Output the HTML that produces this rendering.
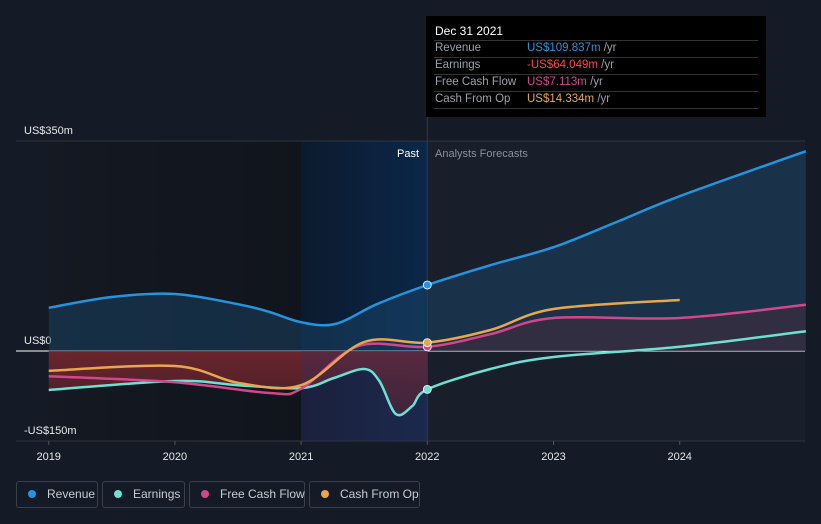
<!DOCTYPE html>
<html><head><meta charset="utf-8"><style>
body{margin:0;background:#151b26;font-family:"Liberation Sans",sans-serif;}
#wrap{position:relative;width:821px;height:524px;overflow:hidden;background:#151b26;}
.lg{position:absolute;top:481px;border:1px solid #3a404b;border-radius:3px;color:#c8ccd2;font-size:12px;line-height:25px;box-sizing:border-box;height:27px;white-space:nowrap;}
.lg i{display:inline-block;width:8px;height:8px;border-radius:50%;margin:0 11px 0 11px;vertical-align:0px;}
.tr{position:absolute;left:9px;height:17px;line-height:17px;font-size:11.5px;white-space:nowrap;}
.tr b{font-weight:normal;display:inline-block;width:92px;color:#9aa0a8}
.hr{position:absolute;left:8px;right:8px;border-top:1px solid #333}
</style></head><body>
<div id="wrap">
<svg id="chart" width="821" height="524" style="position:absolute;left:0;top:0"></svg>
<div style="position:absolute;left:426px;top:16px;width:340px;height:101px;background:#000;color:#fff;font-size:11px;">
 <div style="position:absolute;left:9px;top:8px;font-size:12px">Dec 31 2021</div>
 <div class="hr" style="top:24px"></div>
 <div class="tr" style="top:24px"><b>Revenue</b><span style="color:#2394df">US$109.837m</span> <span style="color:#9aa0a8">/yr</span></div>
 <div class="hr" style="top:41px"></div>
 <div class="tr" style="top:41px"><b>Earnings</b><span style="color:#ff4545">-US$64.049m</span> <span style="color:#9aa0a8">/yr</span></div>
 <div class="hr" style="top:58px"></div>
 <div class="tr" style="top:58px"><b>Free Cash Flow</b><span style="color:#d2478c">US$7.113m</span> <span style="color:#9aa0a8">/yr</span></div>
 <div class="hr" style="top:75px"></div>
 <div class="tr" style="top:75px"><b>Cash From Op</b><span style="color:#e8a74c">US$14.334m</span> <span style="color:#9aa0a8">/yr</span></div>
 <div class="hr" style="top:92px"></div>
</div>
<div class="lg" style="left:16px;width:82px"><i style="background:#2394df"></i>Revenue</div>
<div class="lg" style="left:102px;width:83px"><i style="background:#6ee0d2"></i>Earnings</div>
<div class="lg" style="left:189px;width:116px"><i style="background:#d2478c"></i>Free Cash Flow</div>
<div class="lg" style="left:309px;width:111px"><i style="background:#e8a74c"></i>Cash From Op</div>
</div>
<script>
const revT=[2019,2019.5,2020,2020.5,2020.75,2021,2021.27,2021.6,2022,2022.5,2023,2023.5,2024,2025];
const revV=[72,90,95,78,65,48,45,78,110,143,173,215,258,333];
const earT=[2019,2020,2020.5,2021,2021.26,2021.5,2021.62,2021.75,2021.88,2022,2022.5,2023,2024,2025];
const earV=[-65,-50,-57,-62,-45,-30,-50,-105,-92,-64,-30,-10,7,33];
const fcfT=[2019,2020,2020.75,2021,2021.45,2022,2022.5,2023,2024,2025];
const fcfV=[-42,-52,-70,-63,8,7,28,55,55,77];
const cfoT=[2019,2020,2020.5,2021,2021.5,2022,2022.5,2023,2024];
const cfoV=[-33,-25,-53,-57,15,14,35,70,85];
const yTicks=[350,0,-150];
const yLabels=["US$350m","US$0","-US$150m"];
const xTicks=[2019,2020,2021,2022,2023,2024];
const NS="http://www.w3.org/2000/svg";
const svg=document.getElementById('chart');
const X=t=>48.7+(t-2019)*126.2;
const Y=v=>351-v*0.6;
function el(tag,attrs,parent){const e=document.createElementNS(NS,tag);for(const k in attrs)e.setAttribute(k,attrs[k]);(parent||svg).appendChild(e);return e;}
function path(T,V){const p=T.map((t,i)=>[X(t),Y(V[i])]);let d=`M${p[0][0]},${p[0][1]}`;
 for(let i=0;i<p.length-1;i++){const p0=p[i-1]||p[i],p1=p[i],p2=p[i+1],p3=p[i+2]||p2;
  d+=` C${p1[0]+(p2[0]-p0[0])/6},${p1[1]+(p2[1]-p0[1])/6} ${p2[0]-(p3[0]-p1[0])/6},${p2[1]-(p3[1]-p1[1])/6} ${p2[0]},${p2[1]}`;}return d;}
const defs=el('defs',{});
defs.innerHTML='<linearGradient id="pastg" x1="0" x2="1"><stop offset="0" stop-color="#141922"/><stop offset="1" stop-color="#0f1219"/></linearGradient><linearGradient id="hl" x1="0" x2="1"><stop offset="0" stop-color="#0c1a2e"/><stop offset="1" stop-color="#0b2748"/></linearGradient><linearGradient id="neg" x1="0" x2="0" y1="0" y2="1"><stop offset="0" stop-color="#8a2a32"/><stop offset="1" stop-color="#4a1f28"/></linearGradient><clipPath id="past"><rect x="0" y="0" width="'+X(2022)+'" height="524"/></clipPath><clipPath id="fut"><rect x="'+X(2022)+'" y="0" width="500" height="524"/></clipPath>';
let r=el('rect',{x:X(2019)-1,y:Y(350),width:X(2022)-X(2019)+1,height:Y(-150)-Y(350),fill:'url(#pastg)'});

r=el('rect',{x:X(2021),y:Y(350),width:X(2022)-X(2021),height:Y(-150)-Y(350),fill:'url(#hl)'});

r=el('rect',{x:X(2022),y:Y(350),width:805-X(2022),height:Y(-150)-Y(350),fill:'#181f2b'});

yTicks.forEach((v,i)=>{const g=el('line',{x1:16,x2:805,y1:Y(v),y2:Y(v),stroke:v===0?'#ffffff':'#2f3540','stroke-width':1});
 
 const t=el('text',{x:24,y:Y(v)-7,fill:'#e6e8eb','font-size':11});t.textContent=yLabels[i];
 });
el('line',{x1:16,x2:805,y1:Y(-150),y2:Y(-150),stroke:'#2f3540'});
xTicks.forEach(v=>{el('line',{x1:X(v),x2:X(v),y1:Y(-150),y2:Y(-150)+4,stroke:'#555'});
 const t=el('text',{x:X(v),y:460,fill:'#e6e8eb','font-size':11,'text-anchor':'middle'});t.textContent=v;
 });
let a=el('path',{d:path(revT,revV)+` L${X(2025)},${Y(0)} L${X(2019)},${Y(0)} Z`,fill:'#1b4a6e',opacity:0.45});

a=el('path',{d:path(earT,earV)+` L${X(2025)},${Y(0)} L${X(2019)},${Y(0)} Z`,fill:'url(#neg)',opacity:0.85,'clip-path':'url(#past)'});

a=el('rect',{x:X(2021),y:Y(0),width:X(2022)-X(2021),height:Y(-150)-Y(0),fill:'#3a2d5a',opacity:0.35});

a=el('path',{d:path(fcfT,fcfV)+` L${X(2025)},${Y(0)} L${X(2022)},${Y(0)} Z`,fill:'#4a2a3a',opacity:0.5,'clip-path':'url(#fut)'});

const ps=el('text',{x:419,y:157,fill:'#fff','font-size':11,'text-anchor':'end'});ps.textContent='Past';

const af=el('text',{x:435,y:157,fill:'#8a9099','font-size':11});af.textContent='Analysts Forecasts';

el('line',{x1:X(2022),x2:X(2022),y1:117,y2:Y(-150),stroke:'#2a3a55'});
const series=[[revT,revV,'#2394df','revenue-line'],[earT,earV,'#6ee0d2','earnings-line'],[fcfT,fcfV,'#d2478c','free-cash-flow-line'],[cfoT,cfoV,'#e8a74c','cash-from-op-line']];
series.forEach(s=>{const l=el('path',{d:path(s[0],s[1]),fill:'none',stroke:s[2],'stroke-width':2.5});
 });
series.forEach(s=>{const i=s[0].indexOf(2022);const c=el('circle',{cx:X(2022),cy:Y(s[1][i]),r:4,fill:s[2],stroke:'#fff','stroke-width':0.8});
 });
</script>
</body></html>
